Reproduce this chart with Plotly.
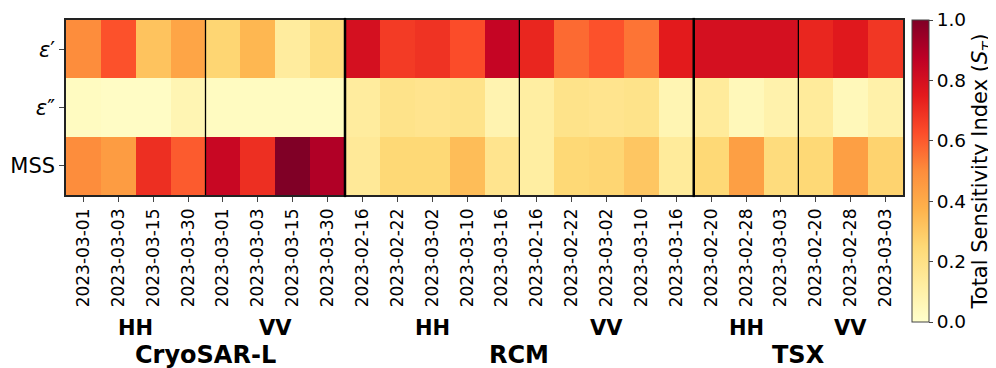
import plotly.graph_objects as go

dates = ["2023-03-01", "2023-03-03", "2023-03-15", "2023-03-30",
         "2023-03-01", "2023-03-03", "2023-03-15", "2023-03-30",
         "2023-02-16", "2023-02-22", "2023-03-02", "2023-03-10", "2023-03-16",
         "2023-02-16", "2023-02-22", "2023-03-02", "2023-03-10", "2023-03-16",
         "2023-02-20", "2023-02-28", "2023-03-03",
         "2023-02-20", "2023-02-28", "2023-03-03"]
rows = ["<i>ε</i>′", "<i>ε</i>″", "MSS"]

eps_real = [0.50, 0.62, 0.32, 0.42, 0.26, 0.36, 0.13, 0.22,
            0.80, 0.67, 0.69, 0.63, 0.85,
            0.72, 0.57, 0.62, 0.55, 0.75,
            0.80, 0.80, 0.80,
            0.72, 0.76, 0.68]
eps_imag = [0.03, 0.02, 0.02, 0.07, 0.03, 0.03, 0.03, 0.03,
            0.13, 0.19, 0.18, 0.19, 0.08,
            0.12, 0.19, 0.18, 0.19, 0.07,
            0.14, 0.05, 0.09,
            0.14, 0.05, 0.10]
mss = [0.50, 0.45, 0.70, 0.60, 0.84, 0.70, 1.00, 0.90,
       0.15, 0.25, 0.25, 0.34, 0.18,
       0.12, 0.25, 0.26, 0.31, 0.14,
       0.25, 0.44, 0.23,
       0.25, 0.44, 0.27]

pol_groups = [("HH", 0, 3), ("VV", 4, 7), ("HH", 8, 12), ("VV", 13, 17),
              ("HH", 18, 20), ("VV", 21, 23)]
sensors = [("CryoSAR-L", 0, 7), ("RCM", 8, 17), ("TSX", 18, 23)]
thin_seps = [3.5, 12.5, 20.5]
thick_seps = [7.5, 17.5]

ylorrd = [[0.0, "#ffffcc"], [0.125, "#ffeda0"], [0.25, "#fed976"], [0.375, "#feb24c"],
          [0.5, "#fd8d3c"], [0.625, "#fc4e2a"], [0.75, "#e31a1c"], [0.875, "#bd0026"],
          [1.0, "#800026"]]

# page has an 8px body margin: figure drawn at (8, 8)
OX, OY = 8, 8
PAGE_W, PAGE_H = 996, 368
W, H = PAGE_W - OX, PAGE_H - OY
# plot area in page pixels
PL, PR, PT, PB = 66, 903, 20, 195
PH = PB - PT
PW = PR - PL

xs = list(range(len(dates)))
fig = go.Figure(go.Heatmap(
    z=[eps_real, eps_imag, mss], x=xs, y=[0, 1, 2],
    zmin=0, zmax=1, colorscale=ylorrd,
    colorbar=dict(
        x=(912 - PL) / PW, xanchor="left", xref="paper", y=1, yanchor="top",
        lenmode="pixels", len=302, thickness=17, thicknessmode="pixels",
        outlinewidth=1, outlinecolor="#444", xpad=0, ypad=0,
        tickvals=[0, 0.2, 0.4, 0.6, 0.8, 1.0], ticktext=["0.0", "0.2", "0.4", "0.6", "0.8", "1.0"],
        ticks="outside", ticklen=4, tickfont=dict(size=18.5, color="black"),
        title=dict(text="Total Sensitivity Index (<i>S</i><sub><i>T</i></sub>)", side="right",
                   font=dict(size=21, color="black")),
    ),
    hoverongaps=False,
))

fig.update_xaxes(tickmode="array", tickvals=xs, ticktext=dates, tickangle=-90,
                 tickfont=dict(size=17, color="black"), ticks="outside", ticklen=5,
                 range=[-0.5, 23.5], showline=True, linecolor="#222", linewidth=1.5,
                 mirror=True, showgrid=False, zeroline=False)
fig.update_yaxes(tickmode="array", tickvals=[0, 1, 2], ticktext=rows,
                 tickfont=dict(size=21, color="black"), ticks="outside", ticklen=5,
                 range=[2.5, -0.5], showline=True, linecolor="#222", linewidth=1.5,
                 mirror=True, showgrid=False, zeroline=False)

shapes = []
for s in thin_seps:
    shapes.append(dict(type="line", xref="x", yref="paper", x0=s, x1=s, y0=0, y1=1,
                       line=dict(color="black", width=1.3)))
for s in thick_seps:
    shapes.append(dict(type="line", xref="x", yref="paper", x0=s, x1=s, y0=-0.012, y1=1.012,
                       line=dict(color="black", width=2.5)))

annotations = []
for name, a, b in pol_groups:
    annotations.append(dict(text="<b>%s</b>" % name, x=(a + b) / 2, y=(PB - 328) / PH,
                            xref="x", yref="paper", showarrow=False,
                            font=dict(size=21, color="black"), yanchor="middle"))
for name, a, b in sensors:
    annotations.append(dict(text="<b>%s</b>" % name, x=(a + b) / 2, y=(PB - 355) / PH,
                            xref="x", yref="paper", showarrow=False,
                            font=dict(size=24, color="black"), yanchor="middle"))

fig.update_layout(width=W, height=H,
                  margin=dict(l=PL - OX, r=PAGE_W - PR, t=PT - OY, b=PAGE_H - PB,
                              pad=0, autoexpand=False),
                  paper_bgcolor="white", plot_bgcolor="white",
                  font=dict(family="DejaVu Sans", color="black"),
                  shapes=shapes, annotations=annotations)
fig.write_html("out.html")
